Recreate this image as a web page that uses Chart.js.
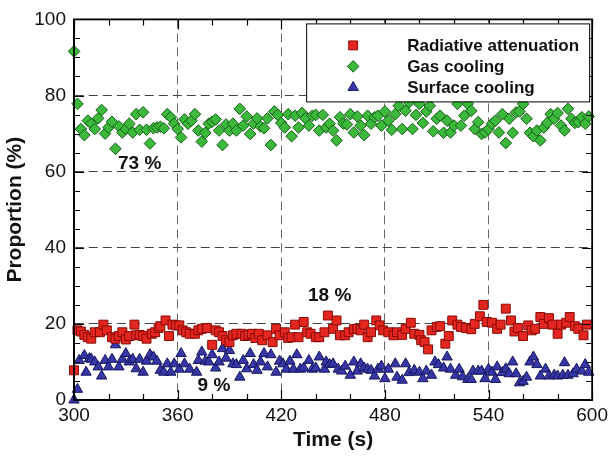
<!DOCTYPE html>
<html>
<head>
<meta charset="utf-8">
<script src="https://cdn.jsdelivr.net/npm/chart.js@4.4.0/dist/chart.umd.min.js"></script>
<style>
  html, body { margin: 0; padding: 0; background: #fff; }
</style>
</head>
<body>
<canvas id="chart" width="612" height="461"></canvas>
<script>
// time (s) and proportion (%)
const radTime = [300, 302, 304, 306, 308, 310, 312, 315, 317, 319, 322, 324, 326, 328, 330, 332, 335, 336, 338, 340,
  342, 345, 347, 349, 350, 353, 355, 357, 359, 361, 363, 365, 367, 370, 372, 374, 377, 380, 382, 384,
  386, 388, 390, 392, 394, 397, 399, 401, 403, 405, 407, 409, 412, 415, 417, 419, 422, 424, 426, 428,
  430, 433, 435, 437, 440, 442, 445, 447, 450, 452, 454, 457, 459, 462, 464, 466, 468, 470, 472, 475,
  477, 479, 482, 485, 487, 490, 492, 495, 497, 500, 501, 503, 505, 507, 510, 512, 515, 517, 519, 522,
  524, 527, 530, 532, 535, 537, 539, 542, 545, 547, 550, 553, 555, 557, 560, 563, 565, 567, 570, 572,
  575, 577, 580, 582, 585, 587, 590, 592, 595, 597];
const radValues = [7.8, 18.3, 18.0, 17.1, 16.5, 16.1, 17.8, 17.8, 19.8, 18.3, 16.5, 16.1, 16.8, 17.8, 15.9, 16.8, 19.8, 17.0, 17.1, 16.8,
  16.1, 17.4, 17.8, 18.9, 19.4, 20.9, 16.8, 19.8, 19.6, 19.6, 18.3, 17.8, 17.4, 17.4, 18.3, 18.7, 18.9, 14.5, 18.3, 17.8,
  16.8, 15.7, 15.2, 17.0, 17.4, 17.4, 16.8, 17.1, 17.4, 16.3, 17.4, 15.7, 17.0, 15.2, 18.7, 17.0, 17.8, 16.3, 16.5, 19.8,
  16.5, 20.5, 17.8, 17.4, 16.5, 16.5, 17.8, 22.2, 18.7, 20.9, 17.0, 17.0, 17.8, 18.6, 18.7, 18.3, 19.8, 16.5, 17.8, 20.9,
  19.6, 18.3, 17.8, 17.0, 17.8, 17.1, 18.7, 20.3, 17.4, 17.1, 15.7, 15.2, 13.3, 18.3, 19.2, 19.4, 14.8, 16.8, 20.9, 19.8,
  19.2, 18.9, 18.6, 20.0, 22.0, 25.0, 20.5, 20.3, 18.7, 19.8, 24.0, 20.9, 18.0, 18.9, 16.8, 19.6, 18.3, 18.7, 21.8, 20.0,
  21.5, 19.8, 17.4, 19.8, 20.3, 21.8, 19.4, 18.7, 17.0, 19.8];

const gasTime = [300, 302, 304, 306, 308, 310, 312, 314, 316, 318, 320, 322, 324, 326, 328, 330, 332, 334, 336, 338,
  340, 342, 344, 346, 348, 350, 352, 354, 356, 358, 360, 362, 364, 366, 368, 370, 372, 374, 376, 378,
  380, 382, 384, 386, 388, 390, 392, 394, 396, 398, 400, 402, 404, 406, 408, 410, 412, 414, 416, 418,
  420, 422, 424, 426, 428, 430, 432, 434, 436, 438, 440, 442, 444, 446, 448, 450, 452, 454, 456, 458,
  460, 462, 464, 466, 468, 470, 472, 474, 476, 478, 480, 482, 484, 486, 488, 490, 492, 494, 496, 498,
  500, 502, 504, 506, 508, 510, 512, 514, 516, 518, 520, 522, 524, 526, 528, 530, 532, 534, 536, 538,
  540, 542, 544, 546, 548, 550, 552, 554, 556, 558, 560, 562, 564, 566, 568, 570, 572, 574, 576, 578,
  580, 582, 584, 586, 588, 590, 592, 594, 596, 598];
const gasValues = [91.6, 77.8, 71.2, 69.6, 73.4, 72.6, 71.2, 74.0, 76.2, 70.0,
  71.6, 73.1, 66.0, 71.9, 70.3, 71.2, 72.6, 70.3, 75.1, 71.0,
  75.6, 71.0, 67.4, 71.4, 71.6, 71.8, 71.4, 75.1, 74.3, 72.6,
  71.2, 69.0, 73.7, 72.6, 73.4, 75.1, 70.8, 67.9, 70.2, 72.6,
  73.1, 73.7, 70.8, 67.0, 72.4, 70.8, 72.6, 70.8, 76.5, 72.1,
  74.5, 69.9, 72.6, 74.0, 71.9, 71.4, 74.0, 67.0, 75.8, 74.9,
  72.8, 71.6, 75.1, 69.3, 74.7, 71.6, 75.4, 74.0, 72.1, 74.7,
  74.9, 70.8, 74.9, 71.6, 72.6, 70.8, 68.2, 74.3, 72.6, 72.4,
  75.1, 70.3, 74.5, 72.1, 69.6, 74.7, 72.6, 74.3, 74.7, 72.1,
  75.8, 73.4, 71.0, 75.1, 77.3, 71.2, 76.0, 78.2, 71.2, 74.9,
  77.8, 72.8, 75.8, 77.3, 70.6, 73.9, 74.7, 70.2, 73.4, 70.3,
  72.1, 77.8, 72.1, 74.7, 77.8, 76.0, 71.2, 73.0, 69.9, 70.3,
  71.2, 72.6, 73.4, 70.3, 75.1, 67.5, 73.9, 70.2, 75.6, 75.8,
  77.8, 73.9, 70.2, 69.3, 70.8, 68.2, 71.6, 72.8, 75.1, 73.9,
  75.4, 72.1, 70.8, 76.5, 73.9, 72.8, 73.0, 74.3, 72.6, 74.5];

const surfTime = [300, 302, 303, 306, 307, 309, 310, 312, 314, 316, 318, 320, 322, 324, 326, 328, 330, 332, 334, 336,
  338, 340, 342, 344, 346, 348, 350, 352, 354, 356, 358, 361, 362, 364, 367, 371, 372, 374, 376, 378,
  380, 382, 384, 386, 388, 390, 392, 394, 396, 398, 400, 402, 404, 406, 408, 410, 412, 414, 417, 419,
  421, 423, 425, 427, 429, 431, 433, 436, 438, 440, 442, 445, 446, 448, 450, 453, 455, 457, 460, 462,
  464, 466, 468, 470, 472, 474, 476, 478, 480, 482, 486, 487, 490, 492, 494, 497, 500, 502, 504, 507,
  509, 511, 514, 516, 518, 521, 523, 525, 528, 530, 531, 534, 536, 538, 540, 542, 544, 545, 548, 550,
  552, 554, 556, 558, 560, 562, 564, 566, 568, 570, 573, 575, 578, 580, 583, 584, 586, 589, 591, 594,
  596, 598];
const surfValues = [0.0, 2.8, 10.4, 11.7, 7.3, 10.9, 10.7, 10.0, 8.7, 6.3, 10.4, 8.7, 10.7, 14.5, 8.7, 10.7, 12.2, 10.0, 10.7, 8.2,
  10.7, 7.3, 10.2, 11.9, 11.3, 10.2, 7.8, 7.3, 9.5, 7.3, 9.5, 8.1, 12.2, 9.5, 8.1, 7.3, 10.4, 12.6, 10.2, 10.0,
  11.9, 8.4, 10.0, 13.5, 11.0, 13.0, 9.5, 9.3, 6.0, 10.4, 8.2, 12.2, 9.3, 7.8, 10.0, 12.2, 8.7, 11.9, 7.3, 10.2,
  9.5, 8.1, 10.2, 8.1, 11.9, 8.1, 8.4, 10.4, 8.1, 8.4, 11.3, 8.1, 10.0, 9.3, 9.5, 8.1, 7.6, 8.9, 6.5, 10.0,
  7.6, 9.5, 8.4, 8.1, 7.8, 6.3, 8.1, 8.9, 5.6, 8.1, 9.5, 6.0, 5.2, 9.5, 7.2, 7.8, 7.3, 5.6, 7.6, 6.5,
  10.0, 9.3, 8.4, 11.3, 8.1, 6.5, 8.1, 6.1, 5.4, 5.4, 7.6, 7.6, 7.6, 5.6, 8.1, 7.3, 5.4, 8.7, 7.2, 8.2,
  6.9, 10.0, 6.9, 4.5, 4.9, 6.0, 10.0, 11.3, 9.3, 6.3, 8.1, 6.3, 6.5, 6.3, 6.5, 9.8, 6.5, 6.9, 8.1, 7.6,
  9.3, 7.3];

const seriesNames = ["Radiative attenuation", "Gas cooling", "Surface cooling"];
const xMajor = [300, 360, 420, 480, 540, 600];
const xMinor = [320, 340, 380, 400, 440, 460, 500, 520, 560, 580];
const yMajor = [0, 20, 40, 60, 80, 100];
const yMinor = [5, 10, 15, 25, 30, 35, 45, 50, 55, 65, 70, 75, 85, 90, 95];
const notes = [
  { text: "73 %", x: 338, y: 62 },
  { text: "18 %", x: 448, y: 27.3 },
  { text: "9 %", x: 381, y: 3.8 },
];

function pts(t, v) {
  return t.map(function (x, i) { return { x: x, y: v[i] }; });
}

function drawMarker(ctx, style, x, y, r) {
  ctx.beginPath();
  if (style === "rect") {
    const s = r * Math.SQRT1_2;
    ctx.rect(x - s, y - s, 2 * s, 2 * s);
  } else if (style === "rectRot") {
    ctx.moveTo(x - r, y);
    ctx.lineTo(x, y - r);
    ctx.lineTo(x + r, y);
    ctx.lineTo(x, y + r);
    ctx.closePath();
  } else {
    ctx.moveTo(x, y - r);
    ctx.lineTo(x + r * 0.866, y + r * 0.5);
    ctx.lineTo(x - r * 0.866, y + r * 0.5);
    ctx.closePath();
  }
  ctx.fill();
  ctx.stroke();
}

const extras = {
  id: "extras",
  afterDatasetsDraw(chart) {
    const ctx = chart.ctx;
    const a = chart.chartArea;
    const xs = chart.scales.x;
    const ys = chart.scales.y;
    ctx.save();

    // inward ticks on all four sides
    ctx.strokeStyle = "#000";
    ctx.lineWidth = 1.2;
    ctx.beginPath();
    function xt(list, len) {
      list.forEach(function (v) {
        const p = Math.round(xs.getPixelForValue(v)) + 0.5;
        ctx.moveTo(p, a.bottom); ctx.lineTo(p, a.bottom - len);
        ctx.moveTo(p, a.top); ctx.lineTo(p, a.top + len);
      });
    }
    function yt(list, len) {
      list.forEach(function (v) {
        const p = Math.round(ys.getPixelForValue(v)) + 0.5;
        ctx.moveTo(a.left, p); ctx.lineTo(a.left + len, p);
        ctx.moveTo(a.right, p); ctx.lineTo(a.right - len, p);
      });
    }
    xt(xMajor, 10); xt(xMinor, 6);
    yt(yMajor, 10); yt(yMinor, 6);
    ctx.stroke();

    // frame
    ctx.lineWidth = 1.8;
    ctx.strokeRect(a.left, a.top, a.right - a.left, a.bottom - a.top);

    // legend
    const bx = a.right - 286, by = a.top + 4, bw = 283, bh = 78;
    ctx.fillStyle = "#fff";
    ctx.fillRect(bx, by, bw, bh);
    ctx.lineWidth = 1;
    ctx.strokeStyle = "#000";
    ctx.strokeRect(bx + 0.5, by + 0.5, bw, bh);
    ctx.font = "bold 17px 'Liberation Sans', Arial, sans-serif";
    ctx.textBaseline = "middle";
    ctx.textAlign = "left";
    chart.data.datasets.forEach(function (ds, i) {
      const cy = by + 22 + i * 21;
      ctx.fillStyle = ds.backgroundColor;
      ctx.strokeStyle = ds.borderColor;
      ctx.lineWidth = 1;
      drawMarker(ctx, ds.pointStyle, bx + 47, cy, ds.pointRadius);
      ctx.fillStyle = "#111";
      ctx.fillText(ds.label, bx + 101, cy + 1);
    });

    // notes
    ctx.font = "bold 19px 'Liberation Sans', Arial, sans-serif";
    ctx.textAlign = "center";
    ctx.fillStyle = "#111";
    notes.forEach(function (n) {
      ctx.fillText(n.text, xs.getPixelForValue(n.x), ys.getPixelForValue(n.y));
    });
    ctx.restore();
  },
};

const tickFont = { family: "'Liberation Sans', Arial, sans-serif", size: 19 };
const titleFont = { family: "'Liberation Sans', Arial, sans-serif", size: 21, weight: "bold" };

new Chart(document.getElementById("chart"), {
  type: "scatter",
  data: {
    datasets: [
      {
        label: seriesNames[0],
        data: pts(radTime, radValues),
        pointStyle: "rect",
        pointRadius: 6.3,
        backgroundColor: "#e3261f",
        borderColor: "#8a0a05",
        borderWidth: 1,
        clip: false,
      },
      {
        label: seriesNames[1],
        data: pts(gasTime, gasValues),
        pointStyle: "rectRot",
        pointRadius: 5.8,
        backgroundColor: "#3cb83c",
        borderColor: "#145e14",
        borderWidth: 1,
        clip: false,
      },
      {
        label: seriesNames[2],
        data: pts(surfTime, surfValues),
        pointStyle: "triangle",
        pointRadius: 6,
        backgroundColor: "#3636a6",
        borderColor: "#16165e",
        borderWidth: 1,
        clip: false,
      },
    ],
  },
  options: {
    responsive: false,
    animation: false,
    events: [],
    layout: { padding: { top: 16, right: 18, left: 0, bottom: 0 } },
    plugins: {
      legend: { display: false },
      tooltip: { enabled: false },
    },
    scales: {
      x: {
        type: "linear",
        min: 300,
        max: 600,
        afterFit: function (s) { s.height = 61; },
        ticks: { stepSize: 60, font: tickFont, color: "#111", padding: 4 },
        grid: { color: "#666", drawTicks: false },
        border: { display: true, color: "#000", width: 1.8, dash: [9, 5] },
        title: { display: true, text: "Time (s)", font: titleFont, color: "#111", padding: { top: 0, bottom: 8 } },
      },
      y: {
        min: 0,
        max: 100,
        afterFit: function (s) { s.width = 74; },
        ticks: { stepSize: 20, font: tickFont, color: "#111", padding: 8 },
        grid: { color: "#444", drawTicks: false },
        border: { display: true, color: "#000", width: 1.8, dash: [9, 5] },
        title: { display: true, text: "Proportion (%)", font: titleFont, color: "#111", padding: { top: 3, bottom: 0 } },
      },
    },
  },
  plugins: [extras],
});
</script>
</body>
</html>
